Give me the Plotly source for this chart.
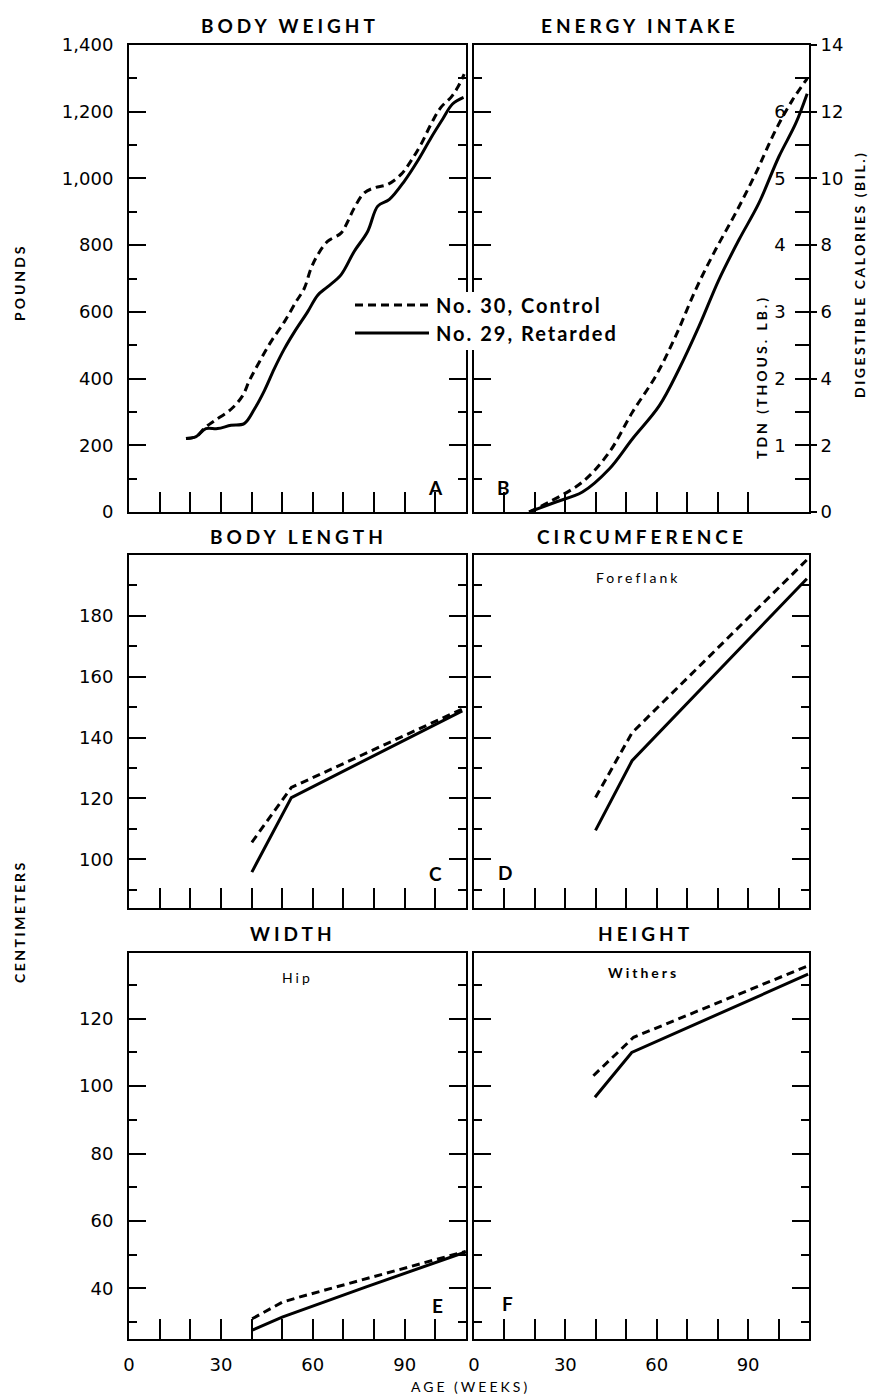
import plotly.graph_objects as go

W, H = 870, 1396

# ---------------- data ----------------
# A: body weight (pounds)
bw_weeks_ctrl = [18.6, 21.9, 24.8, 27.8, 33.3, 37.1, 39.3, 42.5, 46.3, 50.7, 54.5, 57.2, 59.4, 61.6,
                 64.8, 69.2, 71.4, 73.5, 76.8, 80.1, 84.4, 88.8, 92.0, 95.3, 98.6, 101.8, 105.1, 107.3, 109.4]
bw_ctrl = [220, 226, 253, 273, 308, 349, 394, 449, 510, 570, 630, 670, 730, 771,
           811, 836, 871, 911, 957, 972, 982, 1012, 1052, 1102, 1163, 1213, 1243, 1273, 1313]
bw_weeks_ret = [18.6, 21.9, 25.1, 28.9, 33.3, 37.6, 40.9, 44.2, 47.4, 50.7, 54.0, 58.3, 61.6, 64.8,
                69.2, 73.5, 77.9, 81.2, 85.0, 89.9, 94.2, 98.6, 102.4, 105.6, 109.2]
bw_ret = [220, 226, 250, 250, 260, 265, 308, 364, 429, 489, 540, 600, 650, 675,
          711, 781, 841, 917, 937, 992, 1052, 1122, 1178, 1223, 1243]

# B: energy intake (digestible calories, billions)
en_weeks_ctrl = [18.1, 24.7, 35.6, 44.4, 52.0, 59.7, 66.2, 72.8, 79.3, 85.9, 92.5, 99.0, 104.5, 109.4]
en_ctrl = [0.0, 0.3, 0.9, 1.79, 2.99, 4.08, 5.27, 6.67, 7.86, 8.96, 10.15, 11.44, 12.34, 12.99]
en_weeks_ret = [18.1, 26.9, 35.6, 44.4, 52.0, 60.8, 67.3, 73.9, 80.4, 87.0, 93.5, 100.1, 105.6, 109.4]
en_ret = [0.0, 0.3, 0.6, 1.29, 2.19, 3.18, 4.28, 5.57, 6.96, 8.16, 9.25, 10.65, 11.64, 12.54]

# C: body length (cm)
bl_weeks = [40.1, 53.0, 108.8]
bl_ctrl = [105.6, 123.6, 149.4]
bl_ret = [95.8, 120.3, 148.8]

# D: circumference, foreflank (cm)
ci_weeks = [39.9, 51.9, 109.3]
ci_ctrl = [120.3, 141.6, 198.4]
ci_ret = [109.5, 132.4, 192.2]

# E: width, hip (cm)
wi_weeks_ctrl = [40.2, 50.0, 55.5, 99.0, 109.9]
wi_ctrl = [31.0, 35.9, 37.4, 48.3, 51.0]
wi_weeks_ret = [40.2, 50.0, 77.2, 109.9]
wi_ret = [27.6, 31.5, 40.4, 50.8]

# F: height, withers (cm)
he_weeks_ctrl = [39.2, 52.4, 109.7]
he_ctrl = [103.1, 114.5, 135.7]
he_weeks_ret = [39.7, 51.8, 109.7]
he_ret = [96.7, 110.0, 133.2]

x_ticks = list(range(0, 111, 10))
x_labels = ["0", "30", "60", "90"]
cal_ticks = list(range(0, 15, 2))
tdn_ticks = list(range(0, 7))

# ---------------- figure ----------------
def px(x):
    return x / W

def py(y):
    return 1 - y / H

XL = [px(129), px(466)]
XR = [px(474), px(809)]
YT = [py(512), py(45)]
YM = [py(908), py(555)]
YB = [py(1339), py(953)]

FAM = "Lato, DejaVu Sans, sans-serif"
TICKFONT = dict(family="DejaVu Sans, sans-serif", size=18, color="black")
LW = 3
DASH = "8px,5px"

fig = go.Figure()

def add_pair(n, xc, yc, xr, yr, shape="linear", ya_ret=None):
    xa = "x" if n == 1 else f"x{n}"
    ya = "y" if n == 1 else f"y{n}"
    fig.add_trace(go.Scatter(x=xc, y=yc, mode="lines", xaxis=xa, yaxis=ya,
                             line=dict(color="black", width=LW, dash=DASH, shape=shape),
                             showlegend=False, hoverinfo="skip"))
    fig.add_trace(go.Scatter(x=xr, y=yr, mode="lines", xaxis=xa, yaxis=ya_ret or ya,
                             line=dict(color="black", width=LW, shape=shape),
                             showlegend=False, hoverinfo="skip"))

add_pair(1, bw_weeks_ctrl, bw_ctrl, bw_weeks_ret, bw_ret, "spline")
add_pair(2, en_weeks_ctrl, en_ctrl, en_weeks_ret, en_ret, "spline", ya_ret="y7")
add_pair(3, bl_weeks, bl_ctrl, bl_weeks, bl_ret)
add_pair(4, ci_weeks, ci_ctrl, ci_weeks, ci_ret)
add_pair(5, wi_weeks_ctrl, wi_ctrl, wi_weeks_ret, wi_ret)
add_pair(6, he_weeks_ctrl, he_ctrl, he_weeks_ret, he_ret)
# empty helper trace so that the TDN scale is drawn
fig.add_trace(go.Scatter(x=[None], y=[None], xaxis="x2", yaxis="y8", mode="lines",
                         showlegend=False, hoverinfo="skip"))

def xaxis(domain, anchor, labels):
    d = dict(domain=domain, anchor=anchor, range=[0, 110], showline=True, linecolor="black",
             linewidth=2, mirror=True, ticks="inside", ticklen=20, tickwidth=1.5,
             tickcolor="black", tickmode="array", tickvals=x_ticks, showgrid=False,
             zeroline=False, tickfont=TICKFONT, showticklabels=labels, ticklabelstandoff=8,
             automargin=False)
    if labels:
        d["ticktext"] = [str(v) if str(v) in x_labels else "" for v in x_ticks]
    return d

def yaxis(domain, anchor, rng, major, minor, labels, fmt=None, mirror="ticks"):
    d = dict(domain=domain, anchor=anchor, range=rng, showline=True, linecolor="black",
             linewidth=2, mirror=mirror, ticks="inside", ticklen=17, tickwidth=1.5,
             tickcolor="black", tickmode="array", tickvals=major, showgrid=False,
             zeroline=False, tickfont=TICKFONT, showticklabels=labels, ticklabelstandoff=10,
             automargin=False,
             minor=dict(tickmode="array", tickvals=minor, ticks="inside", ticklen=8,
                        tickwidth=1.5, tickcolor="black", showgrid=False))
    if fmt:
        d["tickformat"] = fmt
    return d

fig.update_layout(
    xaxis=xaxis(XL, "y", False),
    xaxis2=xaxis(XR, "y2", False),
    xaxis3=xaxis(XL, "y3", False),
    xaxis4=xaxis(XR, "y4", False),
    xaxis5=xaxis(XL, "y5", True),
    xaxis6=xaxis(XR, "y6", True),
    yaxis=yaxis(YT, "x", [0, 1400], list(range(0, 1401, 200)), list(range(100, 1400, 200)), True, ",d"),
    yaxis2=yaxis(YT, "x2", [0, 14], cal_ticks, list(range(1, 14, 2)), False, mirror=False),
    yaxis3=yaxis(YM, "x3", [84, 200], [100, 120, 140, 160, 180], [90, 110, 130, 150, 170, 190], True),
    yaxis4=yaxis(YM, "x4", [84, 200], [100, 120, 140, 160, 180], [90, 110, 130, 150, 170, 190], False),
    yaxis5=yaxis(YB, "x5", [25, 139.5], [40, 60, 80, 100, 120], [30, 50, 70, 90, 110, 130], True),
    yaxis6=yaxis(YB, "x6", [25, 139.5], [40, 60, 80, 100, 120], [30, 50, 70, 90, 110, 130], False),
    # digestible calories (outer right scale of B)
    yaxis7=dict(overlaying="y2", anchor="x2", side="right", range=[0, 14], showline=True,
                linecolor="black", linewidth=2, ticks="outside", ticklen=6, tickwidth=1.5,
                tickcolor="black", tickmode="array", tickvals=cal_ticks,
                showgrid=False, zeroline=False, tickfont=TICKFONT, ticklabelstandoff=0,
                automargin=False),
    # TDN (inner right scale of B)
    yaxis8=dict(overlaying="y2", anchor="x2", side="right", range=[0, 7], showline=False,
                ticks="inside", ticklen=14, tickwidth=1.5, tickcolor="black",
                tickmode="array", tickvals=tdn_ticks, ticklabelposition="inside",
                showgrid=False, zeroline=False, tickfont=TICKFONT, ticklabelstandoff=10,
                automargin=False,
                minor=dict(tickmode="array", tickvals=[0.5 + i for i in range(7)], ticks="inside",
                           ticklen=14, tickwidth=1.5, tickcolor="black", showgrid=False)),
    width=W, height=H, margin=dict(l=0, r=0, t=0, b=0, autoexpand=False),
    paper_bgcolor="white", plot_bgcolor="white", showlegend=False,
    font=dict(family=FAM, color="black"),
)

def sp(text, ls):
    return f"<span style='letter-spacing:{ls}px'>{text}</span>"

annots = []

def ann(text, x, y, size, bold=False, ls=0, angle=0, xanchor="center"):
    t = f"<b>{text}</b>" if bold else text
    if ls:
        t = sp(t, ls)
    annots.append(dict(text=t, x=px(x), y=py(y), xref="paper", yref="paper", showarrow=False,
                       font=dict(size=size, family=FAM, color="black"),
                       textangle=angle, xanchor=xanchor, yanchor="middle"))

# panel titles
ann("BODY WEIGHT", 290, 25, 19, True, 4)
ann("ENERGY INTAKE", 640, 25, 19, True, 4)
ann("BODY LENGTH", 298, 537, 19, True, 4)
ann("CIRCUMFERENCE", 642, 537, 19, True, 4)
ann("WIDTH", 293, 933, 19, True, 4)
ann("HEIGHT", 645, 933, 19, True, 4)

# panel letters
for letter, x, y in [("A", 435, 487), ("B", 503, 487), ("C", 435, 873),
                     ("D", 505, 872), ("E", 437, 1305), ("F", 507, 1303)]:
    ann(letter, x, y, 19, True)

# sub labels
ann("Foreflank", 638, 577, 14, False, 3)
ann("Hip", 297, 977, 14, False, 3)
ann("Withers", 643, 972, 14, True, 3)

# axis titles
ann("POUNDS", 19, 282, 14, True, 3, -90)
ann("CENTIMETERS", 19, 922, 14, True, 2.5, -90)
ann("TDN (THOUS. LB.)", 762, 377, 14, True, 3, -90)
ann("DIGESTIBLE CALORIES (BIL.)", 859, 275, 14, True, 2.5, -90)
ann("AGE (WEEKS)", 470, 1386, 14, False, 3)

# legend
ann("No. 30, Control", 434, 305, 20, True, 2, xanchor="left")
ann("No. 29, Retarded", 434, 333, 20, True, 2, xanchor="left")

fig.update_layout(annotations=annots)

shapes = [
    dict(type="rect", xref="paper", yref="paper", x0=px(431), x1=px(632), y0=py(350), y1=py(292),
         fillcolor="white", line=dict(width=0), layer="above"),
    dict(type="line", xref="paper", yref="paper", x0=px(355), x1=px(429), y0=py(305), y1=py(305),
         line=dict(color="black", width=LW, dash=DASH), layer="above"),
    dict(type="line", xref="paper", yref="paper", x0=px(355), x1=px(429), y0=py(333), y1=py(333),
         line=dict(color="black", width=LW), layer="above"),
]
fig.update_layout(shapes=shapes)

fig.write_html("out.html", config={"displayModeBar": False},
               post_script="document.body.style.margin='0px';document.body.style.overflow='hidden';")
